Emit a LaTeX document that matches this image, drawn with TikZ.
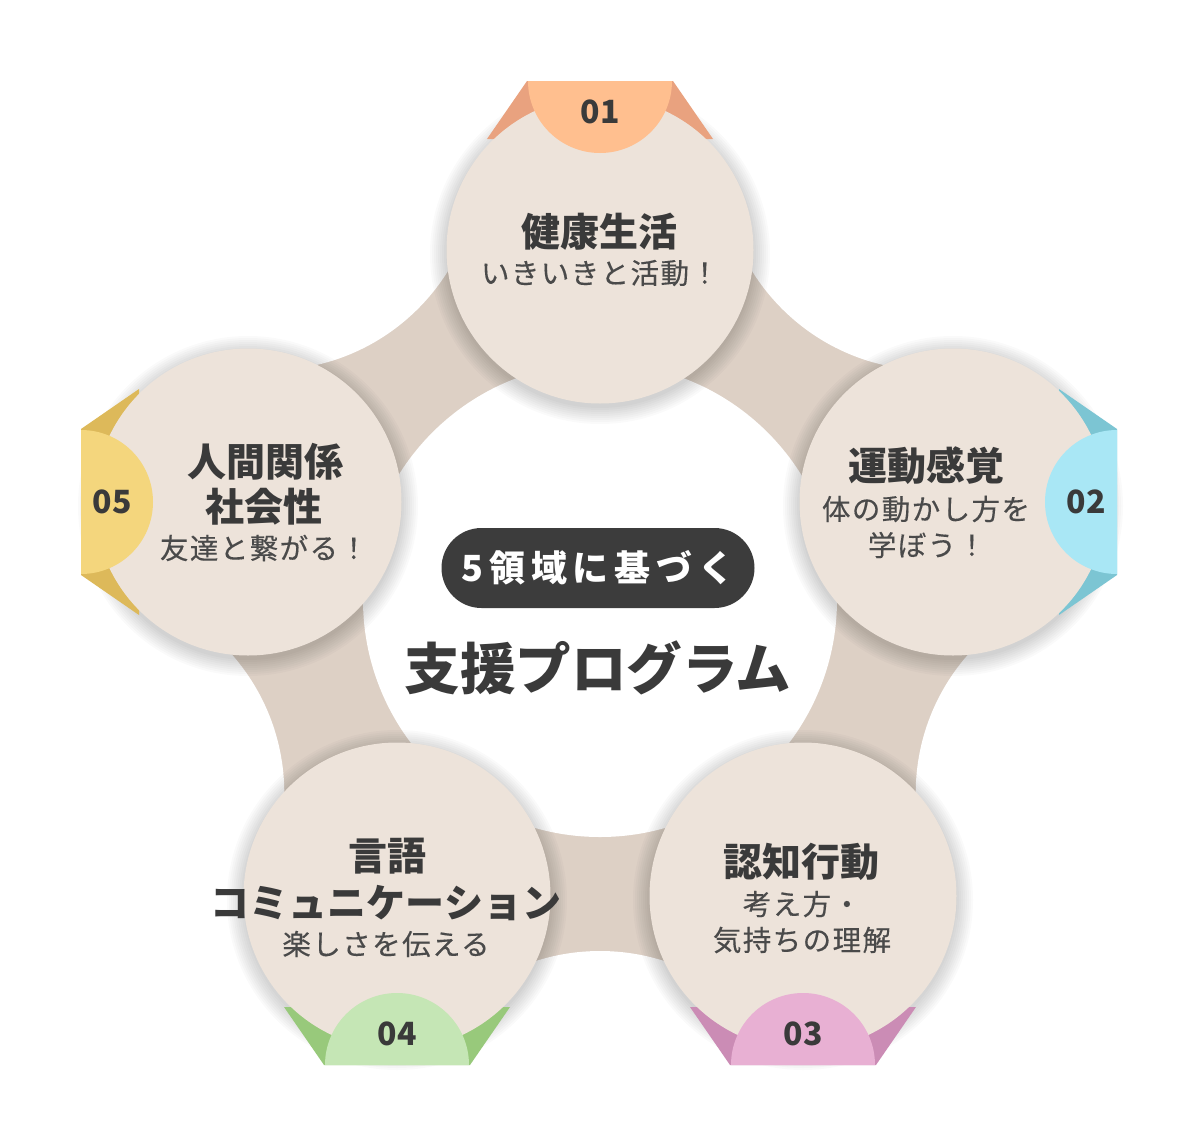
\documentclass[tikz,border=0pt]{standalone}
\usepackage{fontspec}
\setmainfont{Noto Sans CJK JP}
\newfontfamily\jpsub{Noto Sans CJK JP}[LetterSpace=5, FakeBold=0.3]
\newfontfamily\jppill{Noto Sans CJK JP}[LetterSpace=16]
\pgfdeclarelayer{bandl}
\pgfdeclarelayer{cutl}
\pgfdeclarelayer{shadl}
\pgfdeclarelayer{flapl}
\pgfsetlayers{bandl,cutl,shadl,flapl,main}
\definecolor{bandc}{HTML}{DDD0C5}
\definecolor{nodec}{HTML}{EDE3DA}
\definecolor{textc}{HTML}{3A3A3A}
\definecolor{subc}{HTML}{4A4A4A}
\definecolor{pillc}{HTML}{3C3C3C}
\definecolor{oaL}{HTML}{FFBF8F}\definecolor{oaD}{HTML}{E9A27F}
\definecolor{cyL}{HTML}{A9E7F5}\definecolor{cyD}{HTML}{7CC5D3}
\definecolor{piL}{HTML}{E8B0D3}\definecolor{piD}{HTML}{CB8CB5}
\definecolor{grL}{HTML}{C5E6B5}\definecolor{grD}{HTML}{98C97B}
\definecolor{yeL}{HTML}{F4D67D}\definecolor{yeD}{HTML}{DDB95A}
\tikzset{
  band/.style={draw=bandc, line width=220pt},
  areanode/.style={circle, fill=nodec, minimum size=307pt, inner sep=0pt},
  ttl/.style={font=\fontsize{39}{44}\selectfont\bfseries, text=textc, inner sep=0pt},
  sub/.style={font=\fontsize{28.5}{32}\selectfont\jpsub, text=subc, inner sep=0pt},
  num/.style={font=\fontsize{32}{36}\selectfont\bfseries, text=textc, inner sep=0pt},
  pill/.style={rectangle, rounded corners=40pt, fill=pillc, text=white, minimum width=313pt, minimum height=80pt, inner sep=0pt,
    font=\fontsize{36}{40}\selectfont\jppill\bfseries},
  bigttl/.style={font=\fontsize{55.5}{60}\selectfont\bfseries, text=textc, inner sep=0pt},
  shadowring/.style={fill=black, fill opacity=0.018},
}
% soft shadow round a circle node
\newcommand\softshadow[1]{%
  \begin{pgfonlayer}{shadl}
    \foreach \rr in {154,156,...,170} {\fill[shadowring] ([yshift=-4pt]#1.center) circle[radius=\rr];}
  \end{pgfonlayer}}
% number badge: #1 node, #2 direction, #3 light, #4 dark, #5 text, #6 name, #7 offset
\newcommand\mybadge[7]{%
  \begin{scope}[shift={(#1.center)}, rotate=#2]
    \begin{pgfonlayer}{flapl}
      \fill[#4] (#7,-73) -- (#7,73) -- ({#7-58},113) -- ({#7-58},-113) -- cycle;
    \end{pgfonlayer}
    \fill[#3] (#7,-72) arc[start angle=-90, end angle=-270, radius=72] -- cycle;
    \node[num] (#6) at ({#7-31},0) {#5};
  \end{scope}}
\begin{document}
\begin{tikzpicture}[x=1pt,y=-1pt]
\useasboundingbox (0,0) rectangle (1200,1146);
% domain circles
\node[areanode] (n1) at (600,250) {};
\node[areanode] (n2) at (953,502) {};
\node[areanode] (n3) at (803,896) {};
\node[areanode] (n4) at (397,896) {};
\node[areanode] (n5) at (248,502) {};
\softshadow{n1}\softshadow{n2}\softshadow{n3}\softshadow{n4}\softshadow{n5}
% connecting bands
\begin{pgfonlayer}{bandl}
  \draw[band] (n1.center) -- (n2.center);
  \draw[band] (n2.center) -- (n3.center);
  \draw[band] (n3.center) -- (n4.center);
  \draw[band] (n4.center) -- (n5.center);
  \draw[band] (n5.center) -- (n1.center);
\end{pgfonlayer}
% white cut-outs shaping the bands
\begin{pgfonlayer}{cutl}
  \fill[white] (930.5,160.3) circle[radius=210];
  \fill[white] (1125.7,793.3) circle[radius=210];
  \fill[white] (600,1161) circle[radius=210];
  \fill[white] (74.3,793.3) circle[radius=210];
  \fill[white] (269.5,160.3) circle[radius=210];
  \fill[white] (600,600) circle[radius=237];
\end{pgfonlayer}
% badges
\mybadge{n1}{90}{oaL}{oaD}{01}{b1}{169}
\mybadge{n2}{0}{cyL}{cyD}{02}{b2}{164}
\mybadge{n3}{-90}{piL}{piD}{03}{b3}{169}
\mybadge{n4}{-90}{grL}{grD}{04}{b4}{169}
\mybadge{n5}{180}{yeL}{yeD}{05}{b5}{167}
% texts
\node[ttl] (t1a) at (599,232) {健康生活};
\node[sub] (t1b) at (600,273) {いきいきと活動！};
\node[ttl] (t2a) at (926,466) {運動感覚};
\node[sub] (t2b) at (926,509) {体の動かし方を};
\node[sub] (t2c) at (927,545) {学ぼう！};
\node[ttl] (t5a) at (265,462) {人間関係};
\node[ttl] (t5b) at (264,507) {社会性};
\node[sub] (t5c) at (264,548) {友達と繋がる！};
\node[ttl] (t4a) at (387,856) {言語};
\node[ttl] (t4b) at (386,903) {コミュニケーション};
\node[sub] (t4c) at (386,944) {楽しさを伝える};
\node[ttl] (t3a) at (801,862) {認知行動};
\node[sub] (t3b) at (802,904) {考え方・};
\node[sub] (t3c) at (802,940) {気持ちの理解};
% centre
\node[pill] (pl) at (598,568) {5領域に基づく};
\node[bigttl] (mt) at (598,668) {支援プログラム};
\end{tikzpicture}
\end{document}
